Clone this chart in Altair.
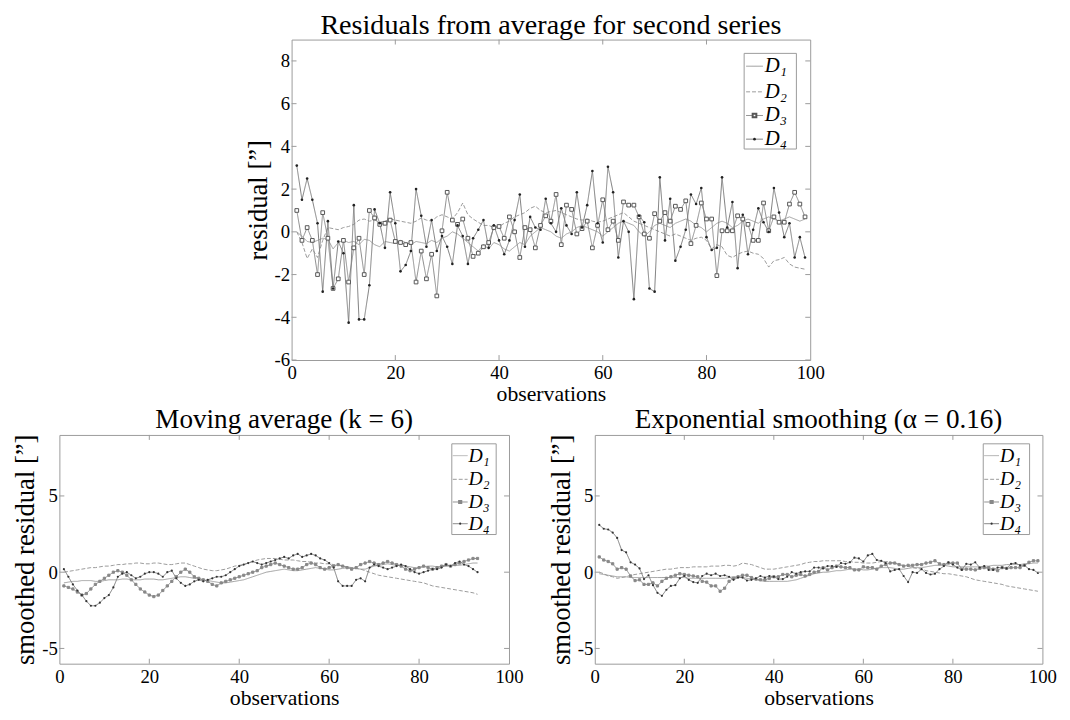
import altair as alt
import pandas as pd

FONT = "Liberation Serif"
FRAME = "#9a9a9a"

SERIES = ["D1", "D2", "D3", "D4"]
LEGEND_LABELS = ["D₁", "D₂", "D₃", "D₄"]

# ---------------- raw residuals (top panel) ----------------
obs_raw = list(range(1, 100))
raw_d1 = [0.0, -0.2, -0.45, -0.5, -0.4, -0.3, -0.35, -0.8, -0.5, -0.4,
          -0.5, -0.45, -0.6, -0.35, -0.4, -0.6, -0.7, -0.45, -0.5, -0.55,
          -0.4, -0.5, -0.6, -0.45, -0.5, -0.55, -0.4, -0.5, -0.3, -0.2,
          0.0, -0.1, -0.3, -0.5, -0.7, -0.9, -0.6, -0.8, -0.5, -0.6,
          -0.8, -0.9, -0.7, -0.5, -0.6, -0.2, 0.0, 0.2, 0.1, 0.0,
          -0.2, -0.3, -0.1, 0.0, 0.2, 0.3, 0.2, 0.1, 0.0, -0.2,
          0.0, 0.2, 0.4, 0.5, 0.4, 0.3, 0.0, -0.2, 0.0, 0.3,
          0.4, 0.3, 0.2, 0.4, 0.5, 0.6, 0.5, 0.3, 0.2, 0.0,
          0.2, 0.4, 0.5, 0.4, 0.2, 0.3, 0.5, 0.6, 0.5, 0.4,
          0.6, 0.7, 0.6, 0.5, 0.6, 0.7, 0.6, 0.5, 0.6]
raw_d2 = [0.0, -0.5, -1.25, -0.8, -1.2, -0.4, 0.2, 0.15, 0.1, 0.2,
          0.25, 0.35, 0.55, 0.6, 0.5, 0.55, 0.45, 0.5, 0.6, 0.55,
          0.5, 0.45, 0.4, 0.5, 0.65, 0.55, 0.5, 0.7, 0.8, 0.7,
          0.6, 0.9, 1.35, 0.8, 0.6, 0.45, 0.3, 0.3, 0.2, 0.25,
          0.4, 0.5, 0.7, 0.8, 0.9, 1.1, 1.2, 1.0, 0.9, 0.95,
          1.0, 0.9, 0.8, 0.7, 0.6, 0.55, 0.6, 0.5, 0.45, 0.5,
          0.6, 0.7, 0.8, 0.9, 0.7, 0.5, 0.4, 0.3, 0.2, 0.1,
          0.0, -0.1, -0.2, -0.1, -0.2, -0.3, -0.4, -0.3, -0.25, -0.4,
          -0.8, -0.6, -0.7, -1.1, -1.2, -1.05, -0.95, -0.9, -1.0, -1.05,
          -1.25, -1.65, -1.35, -1.3, -1.2, -1.5, -1.65, -1.7, -1.75]
raw_d3 = [1.0, -0.4, 0.2, -0.4, -2.0, 0.9, -0.3, -2.65, -2.2, -0.4,
          -2.35, -0.75, -0.3, -2.0, 1.0, 0.65, 0.35, 0.4, 0.55, -0.45,
          -0.5, -0.6, -0.5, -2.35, -0.9, -2.2, -1.05, -3.0, 0.05, 1.85,
          0.55, 0.35, 0.6, -0.3, -1.15, -1.0, -0.7, -0.5, 0.2, 0.25,
          -0.3, 0.7, 0.0, -1.2, 0.2, 0.1, -0.75, 0.3, 0.75, 0.5,
          1.75, -0.6, 1.25, 1.05, -0.1, 0.15, 0.5, -0.75, 0.3, 1.5,
          0.1, 0.5, -0.4, 1.4, 1.25, 1.25, 0.7, -0.1, -0.3, 0.85,
          0.5, 0.9, 0.5, 1.2, 1.05, 1.45, -0.55, 0.3, 1.35, 0.6,
          0.6, -2.05, 0.05, 0.05, 0.05, 0.75, 0.6, 0.35, -0.4, -0.4,
          1.35, 0.05, 0.7, 0.45, 0.45, 1.3, 1.85, 1.3, 0.7]
raw_d4 = [3.1, 1.5, 2.5, 1.5, 0.4, -2.8, 0.5, -2.65, -0.45, -1.0,
          -4.25, 1.25, -4.1, -4.1, -2.5, 1.05, 0.4, -0.75, 1.85, 0.4,
          -1.85, -1.55, -0.9, 2.0, 0.75, -0.7, 0.55, -0.9, -0.2, -0.7,
          -1.5, 0.3, -0.2, -1.5, -0.3, 0.1, 0.55, -0.75, 0.3, -0.4,
          -1.05, -0.4, 0.55, 1.75, -0.7, 0.7, 0.2, 0.1, 1.55, 0.4,
          0.0, 1.1, 0.3, -0.1, 1.85, 0.2, 1.25, 2.85, 0.4, -0.5,
          3.05, 1.85, -1.2, 0.5, 0.0, -3.15, 0.75, 0.45, -2.65, -2.8,
          2.55, -0.4, 1.55, -1.35, -0.7, 0.1, 1.75, 1.3, 2.05, -0.25,
          -0.85, -0.75, 2.55, 0.2, 1.4, -1.7, 0.8, -1.05, 0.1, 1.1,
          0.45, 0.0, 2.05, 0.9, -0.25, 0.4, -1.2, -0.25, -1.2]

# ---------------- moving average k = 6 (bottom left) ----------------
obs_ma = list(range(1, 94))
ma_d1 = [-0.7, -0.65, -0.6, -0.6, -0.55, -0.55, -0.55, -0.6, -0.6, -0.55,
         -0.5, -0.5, -0.5, -0.45, -0.45, -0.5, -0.5, -0.5, -0.45, -0.45,
         -0.45, -0.5, -0.5, -0.45, -0.4, -0.35, -0.3, -0.3, -0.35, -0.4,
         -0.45, -0.5, -0.55, -0.6, -0.65, -0.7, -0.7, -0.65, -0.6, -0.55,
         -0.5, -0.4, -0.3, -0.2, -0.1, 0.0, 0.05, 0.1, 0.15, 0.2,
         0.15, 0.1, 0.1, 0.15, 0.2, 0.25, 0.3, 0.25, 0.2, 0.15,
         0.15, 0.2, 0.25, 0.3, 0.3, 0.25, 0.2, 0.2, 0.3, 0.4,
         0.45, 0.5, 0.55, 0.5, 0.45, 0.45, 0.4, 0.35, 0.3, 0.3,
         0.35, 0.4, 0.4, 0.35, 0.35, 0.4, 0.4, 0.45, 0.45, 0.5,
         0.55, 0.6, 0.6]
ma_d2 = [0.0, 0.05, 0.1, 0.15, 0.2, 0.25, 0.3, 0.3, 0.35, 0.4,
         0.4, 0.45, 0.5, 0.5, 0.55, 0.55, 0.6, 0.6, 0.55, 0.55,
         0.6, 0.6, 0.55, 0.5, 0.5, 0.55, 0.6, 0.6, 0.5, 0.4,
         0.3, 0.2, 0.15, 0.1, 0.1, 0.15, 0.2, 0.3, 0.4, 0.45,
         0.5, 0.6, 0.7, 0.8, 0.85, 0.9, 0.9, 0.9, 0.85, 0.8,
         0.8, 0.8, 0.75, 0.7, 0.7, 0.65, 0.6, 0.6, 0.55, 0.55,
         0.5, 0.45, 0.4, 0.35, 0.3, 0.25, 0.2, 0.1, 0.0, -0.1,
         -0.2, -0.25, -0.3, -0.35, -0.4, -0.45, -0.5, -0.55, -0.6, -0.65,
         -0.7, -0.8, -0.9, -0.95, -1.0, -1.05, -1.1, -1.15, -1.2, -1.25,
         -1.3, -1.35, -1.45]
ma_d3 = [-0.9, -1.0, -1.1, -1.3, -1.5, -1.4, -1.1, -0.8, -0.6, -0.4,
         -0.2, 0.0, 0.1, 0.0, -0.2, -0.5, -0.8, -1.1, -1.3, -1.5,
         -1.6, -1.5, -1.2, -0.9, -0.6, -0.3, 0.0, 0.2, 0.0, -0.3,
         -0.4, -0.5, -0.6, -0.8, -0.9, -0.7, -0.6, -0.5, -0.4, -0.3,
         -0.2, -0.1, 0.0, 0.1, 0.3, 0.4, 0.5, 0.6, 0.5, 0.4,
         0.3, 0.2, 0.2, 0.3, 0.5, 0.6, 0.5, 0.3, 0.2, 0.3,
         0.4, 0.5, 0.4, 0.3, 0.2, 0.3, 0.5, 0.6, 0.7, 0.6,
         0.5, 0.6, 0.7, 0.6, 0.5, 0.4, 0.2, 0.1, 0.2, 0.3,
         0.4, 0.3, 0.2, 0.3, 0.4, 0.5, 0.4, 0.5, 0.6, 0.7,
         0.8, 0.9, 0.9]
ma_d4 = [0.2, -0.3, -0.8, -1.2, -1.5, -1.9, -2.2, -2.2, -2.0, -1.7,
         -1.5, -1.0, -0.3, -0.1, 0.0, -0.2, -0.4, -0.3, -0.1, 0.0,
         0.0, -0.1, -0.3, 0.0, 0.1, -0.4, -0.7, -0.9, -0.8, -0.6,
         -0.5, -0.6, -0.5, -0.4, -0.3, -0.3, -0.2, 0.0, 0.2, 0.4,
         0.5, 0.6, 0.7, 0.6, 0.5, 0.6, 0.7, 0.8, 0.9, 1.0,
         0.9, 1.1, 1.2, 1.0, 1.1, 1.2, 1.1, 0.9, 0.8, 0.6,
         0.3, -0.6, -0.9, -0.9, -0.9, -0.5, -0.4, -0.6, 0.3, 0.5,
         0.4, 0.3, 0.2, 0.3, 0.4, 0.5, 0.4, 0.2, 0.0, -0.1,
         0.0, 0.1, 0.2, 0.2, 0.3, 0.5, 0.4, 0.6, 0.7, 0.5,
         0.4, 0.2, 0.0]

# ---------------- exponential smoothing alpha = 0.16 (bottom right) ----------------
obs_es = list(range(1, 100))
es_d1 = [-0.1, -0.15, -0.2, -0.25, -0.3, -0.3, -0.3, -0.35, -0.35, -0.35,
         -0.35, -0.35, -0.35, -0.35, -0.35, -0.35, -0.35, -0.35, -0.35, -0.35,
         -0.4, -0.4, -0.4, -0.4, -0.4, -0.4, -0.4, -0.4, -0.4, -0.35,
         -0.3, -0.3, -0.35, -0.4, -0.45, -0.5, -0.55, -0.6, -0.6, -0.6,
         -0.6, -0.6, -0.6, -0.55, -0.5, -0.4, -0.3, -0.2, -0.1, -0.05,
         0.0, 0.0, 0.05, 0.1, 0.1, 0.15, 0.2, 0.2, 0.2, 0.15,
         0.15, 0.2, 0.25, 0.3, 0.3, 0.3, 0.25, 0.2, 0.2, 0.25,
         0.3, 0.3, 0.3, 0.35, 0.4, 0.45, 0.45, 0.45, 0.4, 0.35,
         0.35, 0.35, 0.35, 0.35, 0.35, 0.35, 0.4, 0.4, 0.45, 0.45,
         0.45, 0.5, 0.5, 0.5, 0.5, 0.55, 0.55, 0.6, 0.6]
es_d2 = [0.0, -0.1, -0.25, -0.3, -0.4, -0.35, -0.3, -0.2, -0.15, -0.1,
         -0.05, 0.0, 0.05, 0.1, 0.15, 0.2, 0.2, 0.25, 0.3, 0.3,
         0.3, 0.35, 0.35, 0.35, 0.35, 0.4, 0.4, 0.4, 0.45, 0.45,
         0.4, 0.45, 0.6, 0.55, 0.5, 0.4, 0.3, 0.2, 0.2, 0.2,
         0.25, 0.3, 0.35, 0.4, 0.45, 0.5, 0.6, 0.65, 0.7, 0.7,
         0.75, 0.75, 0.75, 0.75, 0.75, 0.7, 0.7, 0.65, 0.65, 0.6,
         0.6, 0.6, 0.65, 0.7, 0.7, 0.65, 0.6, 0.5, 0.45, 0.4,
         0.3, 0.25, 0.2, 0.1, 0.05, 0.0, -0.05, -0.1, -0.1, -0.15,
         -0.2, -0.25, -0.3, -0.4, -0.5, -0.55, -0.6, -0.65, -0.7, -0.75,
         -0.8, -0.9, -0.95, -1.0, -1.05, -1.1, -1.15, -1.2, -1.25]
es_d3 = [1.0, 0.8, 0.7, 0.55, 0.2, 0.3, 0.2, -0.25, -0.55, -0.5,
         -0.8, -0.8, -0.7, -0.9, -0.6, -0.4, -0.3, -0.2, -0.1, -0.15,
         -0.2, -0.25, -0.3, -0.6, -0.65, -0.9, -0.9, -1.25, -1.05, -0.6,
         -0.4, -0.3, -0.2, -0.2, -0.35, -0.45, -0.5, -0.5, -0.4, -0.3,
         -0.3, -0.15, -0.15, -0.3, -0.2, -0.15, -0.25, -0.15, 0.0, 0.05,
         0.3, 0.15, 0.3, 0.4, 0.35, 0.3, 0.3, 0.15, 0.15, 0.35,
         0.3, 0.3, 0.2, 0.4, 0.5, 0.6, 0.6, 0.5, 0.4, 0.45,
         0.45, 0.5, 0.5, 0.6, 0.65, 0.75, 0.55, 0.5, 0.6, 0.6,
         0.6, 0.2, 0.2, 0.2, 0.15, 0.25, 0.3, 0.3, 0.2, 0.1,
         0.3, 0.25, 0.3, 0.3, 0.3, 0.45, 0.65, 0.75, 0.75]
es_d4 = [3.1, 2.85, 2.8, 2.6, 2.25, 1.45, 1.3, 0.65, 0.5, 0.25,
         -0.45, -0.2, -0.85, -1.35, -1.55, -1.15, -0.9, -0.85, -0.4, -0.25,
         -0.5, -0.65, -0.7, -0.25, -0.1, -0.2, -0.1, -0.25, -0.2, -0.3,
         -0.5, -0.35, -0.35, -0.55, -0.5, -0.4, -0.25, -0.35, -0.25, -0.3,
         -0.45, -0.45, -0.3, 0.0, -0.1, 0.0, 0.05, 0.05, 0.3, 0.3,
         0.25, 0.4, 0.4, 0.35, 0.6, 0.55, 0.65, 0.95, 0.9, 0.7,
         1.1, 1.2, 0.8, 0.75, 0.6, 0.05, 0.15, 0.2, -0.25, -0.65,
         0.0, -0.05, 0.2, -0.05, -0.15, -0.1, 0.2, 0.4, 0.65, 0.5,
         0.3, 0.15, 0.55, 0.5, 0.65, 0.3, 0.4, 0.15, 0.15, 0.3,
         0.3, 0.25, 0.55, 0.6, 0.45, 0.45, 0.2, 0.15, -0.05]

X_TICKS = [0, 20, 40, 60, 80, 100]
Y_TICKS_TOP = [-6, -4, -2, 0, 2, 4, 6, 8]
Y_TICKS_BOTTOM = [-5, 0, 5]


def long_frame(obs, series_lists):
    rows = []
    for name, vals in zip(SERIES, series_lists):
        for o, v in zip(obs, vals):
            rows.append({"obs": o, "value": v, "series": name})
    return pd.DataFrame(rows)


def panel(df, title, ytitle, w, h, yticks, leg, style):
    xs = alt.Scale(domain=[0, 100], nice=False, zero=False)
    ys = alt.Scale(domain=[-6, 9], nice=False, zero=False)
    xaxis = alt.Axis(values=X_TICKS, title="observations", titlePadding=1,
                     labelPadding=4, labelFlush=False, labelOverlap=False,
                     labelExpr="'' + datum.value")
    yaxis = alt.Axis(values=yticks, title=ytitle, titlePadding=style["ytp"],
                     titleFontSize=27, labelFlush=False, labelOverlap=False,
                     labelExpr="'' + datum.value")
    X = alt.X("obs:Q", scale=xs, axis=xaxis)
    Y = alt.Y("value:Q", scale=ys, axis=yaxis)
    colors = alt.Scale(domain=SERIES, range=style["colors"])
    dashes = alt.Scale(domain=SERIES, range=[[1, 0], [4, 2], [1, 0], [1, 0]])

    lines = alt.Chart(df).mark_line(strokeWidth=1).encode(
        x=X, y=Y,
        color=alt.Color("series:N", scale=colors, legend=None),
        strokeDash=alt.StrokeDash("series:N", scale=dashes, legend=None),
        order="obs:Q",
    )
    sq = alt.Chart(df).transform_filter("datum.series == 'D3'").mark_point(
        shape="square", filled=style["sq_filled"], size=style["sq_size"],
        stroke=style["sq_stroke"], fill=style["sq_fill"], strokeWidth=1, opacity=1,
    ).encode(x=X, y=Y)
    dots = alt.Chart(df).transform_filter("datum.series == 'D4'").mark_circle(
        size=style["dot_size"], color=style["dot_color"], opacity=1,
    ).encode(x=X, y=Y)

    # inward tick marks on all four sides
    xt = pd.DataFrame({"obs": X_TICKS[1:-1]})
    yt = pd.DataFrame({"value": yticks})
    tk = []
    for y0, y1 in [(0, 5), (h, h - 5)]:
        tk.append(alt.Chart(xt).mark_rule(color=FRAME, strokeWidth=1).encode(
            x=X, y=alt.value(y0), y2=alt.value(y1)))
    for x0, x1 in [(0, 5), (w, w - 5)]:
        tk.append(alt.Chart(yt).mark_rule(color=FRAME, strokeWidth=1).encode(
            y=Y, x=alt.value(x0), x2=alt.value(x1)))

    # legend box
    ldf = pd.DataFrame({"series": SERIES, "label": LEGEND_LABELS})
    bx0, bx1, by0, by1 = leg["box"]
    legend = [alt.Chart(ldf).transform_filter("datum.series == 'D1'").mark_rect(
        fill="white", stroke=FRAME, strokeWidth=1).encode(
        x=alt.value(bx0), x2=alt.value(bx1), y=alt.value(by0), y2=alt.value(by1))]
    lx0, lx1 = leg["line"]
    for i, s in enumerate(SERIES):
        base = alt.Chart(ldf).transform_filter(f"datum.series == '{s}'")
        ry = leg["rows"][i]
        legend.append(base.mark_rule(color=style["colors"][i], strokeWidth=1,
                                     strokeDash=[4, 2] if s == "D2" else [1, 0]).encode(
            x=alt.value(lx0), x2=alt.value(lx1), y=alt.value(ry)))
        if s == "D3":
            legend.append(base.mark_point(shape="square", filled=style["sq_filled"],
                                          size=style["sq_size"], stroke=style["sq_stroke"],
                                          fill=style["sq_fill"], opacity=1).encode(
                x=alt.value((lx0 + lx1) / 2), y=alt.value(ry)))
        if s == "D4":
            legend.append(base.mark_circle(size=style["dot_size"], color=style["dot_color"],
                                           opacity=1).encode(
                x=alt.value((lx0 + lx1) / 2), y=alt.value(ry)))
        legend.append(base.mark_text(align="left", baseline="middle", font=FONT,
                                     fontSize=leg["fs"], fontStyle="italic", color="black").encode(
            x=alt.value(leg["tx"]), y=alt.value(ry), text="label:N"))

    return alt.layer(lines, sq, dots, *tk, *legend).properties(
        width=w, height=h,
        title=alt.TitleParams(title, font=FONT, fontSize=style["tfs"], fontWeight="normal",
                              color="black", offset=style["toff"]),
    )


top_style = dict(colors=["#9e9e9e", "#9a9a9a", "#8a8a8a", "#7c7c7c"],
                 sq_filled=False, sq_size=14, sq_stroke="#555", sq_fill="white",
                 dot_size=7, dot_color="#222", ytp=2, tfs=28.5, toff=0)
bot_style = dict(colors=["#b0b0b0", "#9a9a9a", "#8a8a8a", "#7a7a7a"],
                 sq_filled=True, sq_size=5, sq_stroke="#888", sq_fill="#888",
                 dot_size=5, dot_color="#333", ytp=2, tfs=27.5, toff=1)

top = panel(long_frame(obs_raw, [raw_d1, raw_d2, raw_d3, raw_d4]),
            "Residuals from average for second series", "residual [”]",
            526, 325, Y_TICKS_TOP,
            dict(box=(459, 512, 14, 111), line=(461, 478), tx=480,
                 rows=[27, 53, 77, 101], fs=21),
            top_style)

bl = panel(long_frame(obs_ma, [ma_d1, ma_d2, ma_d3, ma_d4]),
           "Moving average (k = 6)", "smoothed residual [”]",
           456, 232, Y_TICKS_BOTTOM,
           dict(box=(398, 443, 9, 101), line=(399, 414), tx=415,
                rows=[21, 45, 68, 90], fs=20),
           bot_style)

br = panel(long_frame(obs_es, [es_d1, es_d2, es_d3, es_d4]),
           "Exponential smoothing (α = 0.16)", "smoothed residual [”]",
           454, 232, Y_TICKS_BOTTOM,
           dict(box=(394, 441, 9, 101), line=(395, 410), tx=411,
                rows=[21, 45, 68, 90], fs=20),
           bot_style)

chart = alt.vconcat(
    top,
    alt.hconcat(bl, br, spacing=23),
    spacing=0,
    center=True,
).properties(
    padding={"left": 3, "top": -3, "right": 5, "bottom": 0},
).configure_view(
    stroke=FRAME, strokeWidth=1,
).configure_axis(
    grid=False, domain=False, ticks=False,
    labelFont=FONT, labelFontSize=19, labelColor="black", labelPadding=2,
    titleFont=FONT, titleFontSize=22, titleFontWeight="normal", titleColor="black",
).configure_title(
    font=FONT, fontWeight="normal", color="black",
)

chart.save("out.html", embed_options={"renderer": "svg", "actions": False})
